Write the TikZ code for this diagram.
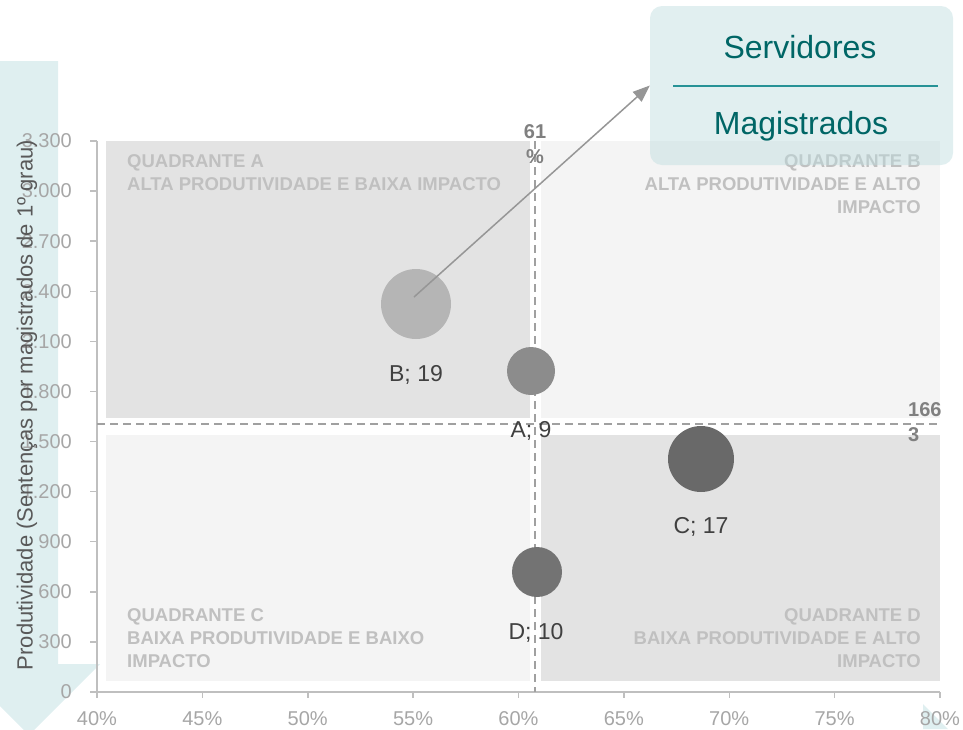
\documentclass[tikz,border=0pt]{standalone}
\usepackage{fontspec}
\setmainfont{Liberation Sans}
\usetikzlibrary{arrows.meta}
\definecolor{axisgray}{RGB}{191,191,191}
\definecolor{ticktext}{RGB}{166,166,166}
\definecolor{titlegray}{RGB}{89,89,89}
\definecolor{quaddark}{RGB}{227,227,227}
\definecolor{quadlight}{RGB}{244,244,244}
\definecolor{quadtext}{RGB}{192,192,192}
\definecolor{dashgray}{RGB}{160,160,160}
\definecolor{refgray}{RGB}{128,128,128}
\definecolor{labelgray}{RGB}{64,64,64}
\definecolor{arrowblue}{RGB}{223,239,240}
\definecolor{boxfill}{RGB}{189,220,222}
\definecolor{tealtext}{RGB}{0,102,102}
\definecolor{tealline}{RGB}{38,146,150}
\definecolor{pointer}{RGB}{150,150,150}
\definecolor{bubA}{RGB}{140,140,140}
\definecolor{bubB}{RGB}{181,181,181}
\definecolor{bubC}{RGB}{105,105,105}
\definecolor{bubD}{RGB}{115,115,115}

\begin{document}
\begin{tikzpicture}[x=1pt,y=-1pt,
    quadlabel/.style={font=\fontsize{18.5}{23}\selectfont\bfseries, text=quadtext, inner sep=0pt},
    ticklabel/.style={font=\fontsize{20}{24}\selectfont, text=ticktext, inner sep=0pt},
    bubblelabel/.style={font=\fontsize{23}{27}\selectfont, text=labelgray, inner sep=0pt},
    reflabel/.style={font=\fontsize{20}{25}\selectfont\bfseries, text=refgray, inner sep=0pt},
    refline/.style={dashgray, line width=1.5pt, dash pattern=on 8pt off 5pt},
    bubble/.style={circle, inner sep=0pt},
    legendtext/.style={font=\fontsize{32}{36}\selectfont, text=tealtext}]
\clip (0,0) rectangle (963,729);
\fill[arrowblue] (0,61) -- (58,61) -- (58,664) -- (100,664) -- (29,735) -- (-42,664) -- (0,664) -- cycle;
\fill[arrowblue] (923,704) -- (948,729) -- (923,729) -- cycle;

\fill[quaddark] (106,141) rectangle (530,418);
\fill[quadlight] (541,141) rectangle (940,418);
\fill[quadlight] (106,435) rectangle (530,681);
\fill[quaddark] (541,435) rectangle (940,681);

\node[quadlabel, anchor=north west, align=left] (qa) at (127,154) {QUADRANTE A\\ALTA PRODUTIVIDADE E BAIXA IMPACTO};
\node[quadlabel, anchor=north east, align=right] (qb) at (921,154) {QUADRANTE B\\ALTA PRODUTIVIDADE E ALTO\\IMPACTO};
\node[quadlabel, anchor=north west, align=left] (qc) at (127,608) {QUADRANTE C\\BAIXA PRODUTIVIDADE E BAIXO\\IMPACTO};
\node[quadlabel, anchor=north east, align=right] (qd) at (921,608) {QUADRANTE D\\BAIXA PRODUTIVIDADE E ALTO\\IMPACTO};

\draw[axisgray, line width=1.5pt] (97,141) -- (97,692) -- (940,692);
\foreach \k/\lab in {0/0,1/300,2/600,3/900,4/1.200,5/1.500,6/1.800,7/2.100,8/2.400,9/2.700,10/3.000,11/3.300} {
  \draw[axisgray, line width=1.5pt] (90,{692-\k*50.09}) -- (97,{692-\k*50.09});
  \node[ticklabel, anchor=east] at (72,{692-\k*50.09}) {\lab};
}
\foreach \k/\lab in {0/40,1/45,2/50,3/55,4/60,5/65,6/70,7/75,8/80} {
  \draw[axisgray, line width=1.5pt] ({97+\k*105.375},692) -- ({97+\k*105.375},698);
  \node[ticklabel] at ({97+\k*105.375},719) {\lab\%};
}
\node[rotate=90, font=\fontsize{22}{26}\selectfont, text=titlegray] (ytitle) at (27,405) {Produtividade (Sentenças por magistrados de 1º grau)};

\draw[refline] (535,141) -- (535,692);
\draw[refline] (97,424) -- (938,424);
\node[reflabel, align=center] (xref) at (535,144) {61\\\%};
\node[reflabel, anchor=west, align=left] (yref) at (908,422) {166\\3};

\node[bubble, fill=bubB, minimum size=70pt] (bB) at (416,304) {};
\node[bubble, fill=bubA, minimum size=48pt] (bA) at (531,371) {};
\node[bubble, fill=bubC, minimum size=66pt] (bC) at (701,459) {};
\node[bubble, fill=bubD, minimum size=50pt] (bD) at (537,572) {};
\node[bubblelabel] (lB) at (416,375) {B; 19};
\node[bubblelabel] (lA) at (531,431) {A; 9};
\node[bubblelabel] (lC) at (701,527) {C; 17};
\node[bubblelabel] (lD) at (536,633) {D; 10};

\node[fill=boxfill, fill opacity=0.45, rounded corners=12pt, minimum width=303pt, minimum height=159pt, inner sep=0pt] (legend) at (801.5,85.5) {};
\node[legendtext] (serv) at (800,47) {Servidores};
\node[legendtext] (mag) at (801,126) {Magistrados};
\draw[tealline, line width=1.5pt] (673,86) -- (938,86);

\coordinate (tail) at (414,297);
\draw[pointer, line width=1.5pt, -{Triangle[length=17pt,width=13pt]}] (tail) -- (legend.west);
\end{tikzpicture}
\end{document}
